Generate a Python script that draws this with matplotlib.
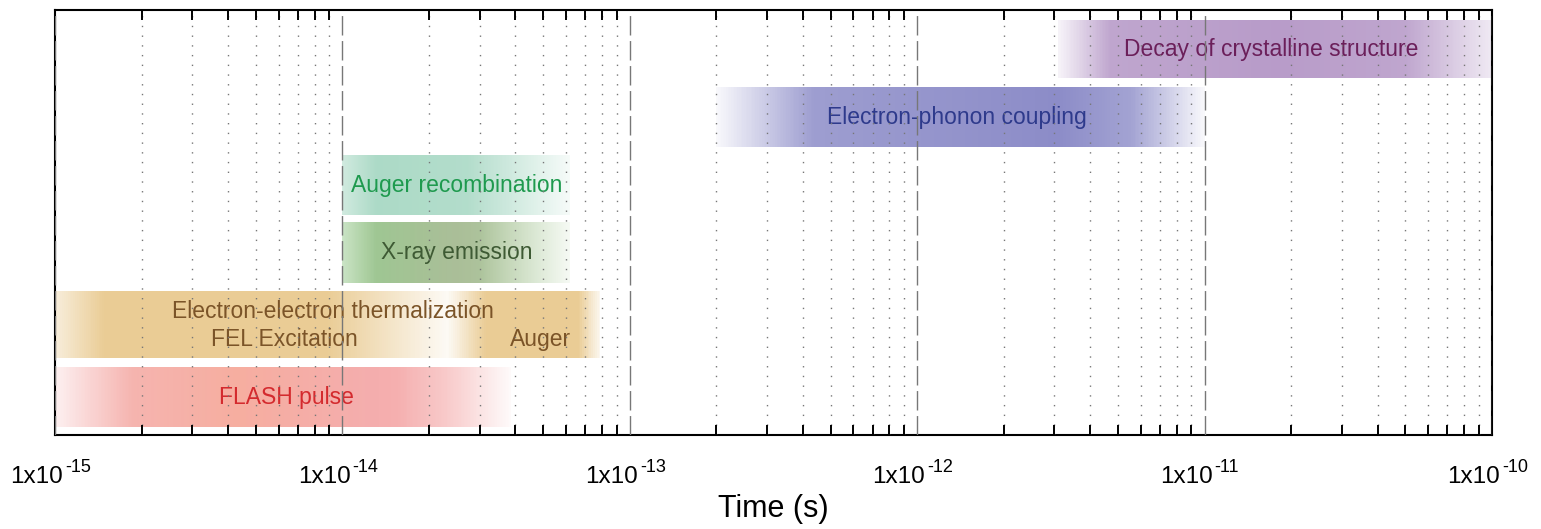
import numpy as np
import matplotlib
matplotlib.use("Agg")
import matplotlib.pyplot as plt
import matplotlib.transforms as mtransforms
from matplotlib.collections import PolyCollection
from matplotlib.colors import to_rgb

plt.rcParams['font.family'] = ['Liberation Sans', 'DejaVu Sans']

# Process bars: time span (s) and vertical band
names = ["FLASH pulse", "Electron-electron thermalization", "X-ray emission",
         "Auger recombination", "Electron-phonon coupling", "Decay of crystalline structure"]
t_start = [1e-15, 1e-15, 1.0e-14, 1.0e-14, 2.0e-13, 3.1e-12]
t_end = [3.85e-14, 7.9e-14, 6.2e-14, 6.2e-14, 1.0e-11, 1.0e-10]
y_lo = [0.11, 1.10, 2.17, 3.14, 4.11, 5.10]
y_hi = [0.97, 2.06, 3.04, 4.00, 4.97, 5.93]

# colour stops along each bar (fraction in log time, colour)
color_stops = [
    [(0.0, "#F3A2A2"), (0.4, "#F6AEA0"), (0.7, "#F4A6A6"), (1.0, "#F4A8A8")],
    [(0.0, "#E8C78A"), (1.0, "#E8C78A")],
    [(0.0, "#96C88C"), (0.5, "#A2B88E"), (1.0, "#A8CC98")],
    [(0.0, "#A2D6C0"), (1.0, "#A8D8C4")],
    [(0.0, "#8C8CC8"), (1.0, "#8C8CC8")],
    [(0.0, "#B496C6"), (1.0, "#B496C6")],
]
# opacity stops along each bar
alpha_stops = [
    [(0.0, 0.15), (0.17, 0.85), (0.4, 1.0), (0.75, 0.9), (0.86, 0.6), (1.0, 0.05)],
    [(0.0, 0.3), (0.09, 0.9), (0.5, 0.9), (0.72, 0.08), (0.79, 0.9), (0.96, 0.9), (1.0, 0.1)],
    [(0.0, 0.5), (0.15, 0.95), (0.6, 0.9), (1.0, 0.1)],
    [(0.0, 0.5), (0.15, 0.9), (0.55, 0.85), (1.0, 0.1)],
    [(0.0, 0.05), (0.2, 0.85), (0.7, 1.0), (0.85, 0.8), (1.0, 0.05)],
    [(0.0, 0.1), (0.12, 0.85), (0.5, 0.95), (0.8, 0.85), (1.0, 0.2)],
]

# labels inside the bars
label_text = ["FLASH pulse", "Electron-electron thermalization", "FEL Excitation", "Auger",
              "X-ray emission", "Auger recombination", "Electron-phonon coupling",
              "Decay of crystalline structure"]
label_t = [6.4e-15, 9.3e-15, 6.3e-15, 4.9e-14, 2.5e-14, 2.5e-14, 1.37e-12, 1.7e-11]
label_y = [0.54, 1.77, 1.36, 1.36, 2.60, 3.56, 4.54, 5.51]
label_color = ["#D42A2E", "#7B5428", "#7B5428", "#7B5428", "#3E5A34", "#1E9A4E",
               "#2E3A8C", "#6B1F5A"]

decades = [-15, -14, -13, -12, -11, -10]


def gradient_bar(ax, t0, t1, y0, y1, cstops, astops, n=300):
    edges = np.logspace(np.log10(t0), np.log10(t1), n + 1)
    mids = (np.arange(n) + 0.5) / n
    cf = [s[0] for s in cstops]
    cols = np.array([to_rgb(s[1]) for s in cstops])
    r = np.interp(mids, cf, cols[:, 0])
    g = np.interp(mids, cf, cols[:, 1])
    b = np.interp(mids, cf, cols[:, 2])
    a = np.interp(mids, [s[0] for s in astops], [s[1] for s in astops])
    verts = []
    for i in range(n):
        verts.append([(edges[i], y0), (edges[i + 1], y0), (edges[i + 1], y1), (edges[i], y1)])
    pc = PolyCollection(verts, facecolors=np.column_stack([r, g, b, a]),
                        edgecolors="none", antialiased=False, zorder=1)
    ax.add_collection(pc)


fig = plt.figure(figsize=(15.41, 5.29), dpi=100)
ax = fig.add_axes([0.0357, 0.1777, 0.9325, 0.8033])
ax.set_xscale("log")
ax.set_xlim(1e-15, 1e-10)
ax.set_ylim(0, 6.07)

for i in range(len(names)):
    gradient_bar(ax, t_start[i], t_end[i], y_lo[i], y_hi[i], color_stops[i], alpha_stops[i])

for txt, tx, ty, c in zip(label_text, label_t, label_y, label_color):
    ax.text(tx, ty, txt, color=c, fontsize=16.5, ha="center", va="center", zorder=2)

ax.set_xticks([10.0 ** d for d in decades])
ax.set_xticklabels([""] * len(decades))
ax.xaxis.set_minor_locator(matplotlib.ticker.LogLocator(base=10, subs=np.arange(2, 10)))
ax.xaxis.set_minor_formatter(matplotlib.ticker.NullFormatter())
ax.tick_params(axis="x", which="major", length=0)
ax.tick_params(axis="x", which="minor", direction="in", length=7.5, width=1.4,
               top=True, bottom=True, color="black")
ax.set_yticks([])

# tick labels written as "1x10" with a raised "-15"
trans = mtransforms.blended_transform_factory(ax.transData, ax.transAxes)
for d in decades:
    base_tr = mtransforms.offset_copy(trans, fig=fig, x=8, y=0, units="dots")
    sup_tr = mtransforms.offset_copy(trans, fig=fig, x=10, y=0, units="dots")
    ax.text(10.0 ** d, -0.113, "1x10", transform=base_tr, ha="right", va="baseline",
            fontsize=17.5, clip_on=False)
    ax.text(10.0 ** d, -0.087, "-%d" % abs(d), transform=sup_tr, ha="left", va="baseline",
            fontsize=13, clip_on=False)

ax.grid(True, which="major", axis="x", color="#777777", linestyle=(0, (14, 4)),
        linewidth=1.0, zorder=3)
ax.grid(True, which="minor", axis="x", color="#777777", linestyle=(0, (1, 6)),
        linewidth=1.0, zorder=3)
ax.set_axisbelow(False)

for sp in ax.spines.values():
    sp.set_linewidth(1.5)
    sp.set_color("black")

ax.set_xlabel("Time (s)", fontsize=22, va="baseline")
ax.xaxis.set_label_coords(0.5, -0.193)

fig.savefig("out.png", dpi=100)
